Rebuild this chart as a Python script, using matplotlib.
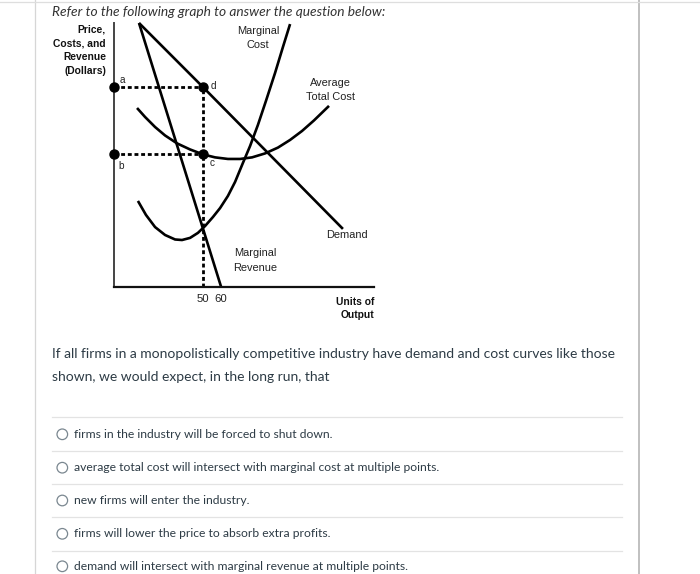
import matplotlib
matplotlib.use("Agg")
import matplotlib.pyplot as plt
from matplotlib.patches import Circle

# ---- curve data (units of output, dollars) ----
demand_q = [14.0, 50.0, 128.2]
demand_p = [100.0, 75.6, 22.0]
mr_q = [14.0, 60.0]
mr_p = [100.0, 0.0]
mc_q = [13.4, 17.9, 23.0, 28.6, 34.2, 38.1, 42.6, 47.0, 51.0, 55.4,
        59.4, 63.8, 67.8, 72.2, 76.2, 80.6, 85.1, 90.2, 94.6, 98.6]
mc_p = [32.6, 27.3, 22.7, 19.7, 18.0, 17.8, 18.6, 20.5, 23.1, 26.5,
        29.9, 34.5, 39.8, 47.0, 53.4, 61.4, 70.5, 81.1, 90.9, 99.6]
atc_q = [12.9, 17.4, 23.0, 28.6, 35.3, 42.6, 50.0, 56.6, 63.8, 70.6,
         77.3, 84.6, 91.8, 98.6, 105.3, 112.0, 120.4]
atc_p = [67.8, 64.4, 60.6, 57.4, 54.4, 52.1, 50.2, 49.1, 48.5, 48.5,
         49.1, 50.6, 52.8, 55.7, 59.1, 63.1, 68.6]
q_star = 50
price_star = 75.6
atc_star = 50.2
tick_q = [50, 60]
tick_labels = ["50", "60"]

title = "Refer to the following graph to answer the question below:"
question = ["If all firms in a monopolistically competitive industry have demand and cost curves like those",
            "shown, we would expect, in the long run, that"]
options = ["firms in the industry will be forced to shut down.",
           "average total cost will intersect with marginal cost at multiple points.",
           "new firms will enter the industry.",
           "firms will lower the price to absorb extra profits.",
           "demand will intersect with marginal revenue at multiple points."]

W, H = 700, 574
TXT = "#2d3b45"
SANS = ["Liberation Sans", "DejaVu Sans"]

fig = plt.figure(figsize=(W / 100, H / 100), dpi=100)
frame = fig.add_axes([0, 0, 1, 1])
frame.set_xlim(0, W)
frame.set_ylim(H, 0)
frame.axis("off")

# page borders
frame.plot([35, 35], [0, H], color="#d6d6d6", lw=0.9)
frame.plot([639, 639], [0, H], color="#b5b5b5", lw=1.2)
frame.plot([0, W], [1.5, 1.5], color="#dedede", lw=0.9)

frame.text(52, 12, title, family=["Lato", "DejaVu Sans"], style="italic",
           fontsize=9.95, color="#333333", va="center")

# ---- diagram ----
ax = fig.add_axes([114 / W, (H - 287) / H, 260 / W, 264 / H])
ax.set_xlim(0, 145.6)
ax.set_ylim(0, 100)
ax.patch.set_alpha(0)
for s in ["top", "right"]:
    ax.spines[s].set_visible(False)
ax.spines["left"].set_color("#444444")
ax.spines["left"].set_linewidth(1.4)
ax.spines["bottom"].set_color("#111111")
ax.spines["bottom"].set_linewidth(1.6)
ax.set_yticks([])
ax.set_xticks(tick_q, tick_labels, family=SANS, fontsize=8.2, color="#222222")
ax.tick_params(axis="x", length=0, pad=5)

kw = dict(color="black", lw=1.9, clip_on=False, solid_capstyle="butt")
ax.plot(demand_q, demand_p, **kw)
ax.plot(mr_q, mr_p, **kw)
ax.plot(mc_q, mc_p, **kw)
ax.plot(atc_q, atc_p, **kw)

dot = dict(color="black", lw=2.0, linestyle=(0, (1.4, 1.0)), clip_on=False)
ax.plot([0, q_star], [price_star, price_star], **dot)
ax.plot([0, q_star], [atc_star, atc_star], **dot)
ax.plot([q_star, q_star], [0, price_star], **dot)
ax.plot([0, q_star, 0, q_star], [price_star, price_star, atc_star, atc_star],
        "o", color="black", markersize=6.5, clip_on=False, zorder=5)

lab = dict(textcoords="offset points", fontsize=7.2, family=SANS,
           ha="center", va="center", color="#222222")
ax.annotate("a", (0, price_star), xytext=(5.8, 5.2), **lab)
ax.annotate("d", (q_star, price_star), xytext=(7.3, 0.8), **lab)
ax.annotate("b", (0, atc_star), xytext=(5.0, -8.3), **lab)
ax.annotate("c", (q_star, atc_star), xytext=(6.1, -6.3), **lab)

# curve names and axis titles (pixel positions)
txt = dict(family=SANS, fontsize=7.9, color="#222222", va="center", ha="center")
frame.text(258, 31.5, "Marginal", **txt)
frame.text(258, 44.5, "Cost", **txt)
frame.text(330, 82.5, "Average", **txt)
frame.text(330, 96.5, "Total Cost", **txt)
frame.text(346.5, 235.5, "Demand", **txt)
frame.text(255, 253.5, "Marginal", **txt)
frame.text(255, 268.3, "Revenue", **txt)

bold = dict(family=SANS, fontsize=7.4, weight="bold", color="#111111",
            va="center", ha="right")
for y, s in zip([29.5, 43.5, 57.5, 71.5], ["Price,", "Costs, and", "Revenue", "(Dollars)"]):
    frame.text(106, y, s, **bold)
frame.text(374.5, 301.7, "Units of", **bold)
frame.text(374.5, 315.5, "Output", **bold)

# ---- question ----
q_font = dict(family=["Lato", "DejaVu Sans"], color=TXT, va="center")
frame.text(52, 354.5, question[0], fontsize=10.0, **q_font)
frame.text(52, 377, question[1], fontsize=10.0, **q_font)

row_y = [434.3, 467.7, 500.5, 533.8, 566.3]
sep_y = [417.3, 450.7, 484.0, 517.3, 550.7]
for y in sep_y:
    frame.plot([52, 622], [y, y], color="#e3e3e3", lw=0.9)
for y, s in zip(row_y, options):
    frame.add_patch(Circle((62.3, y), 5.3, facecolor="white", edgecolor="#7a8790", lw=0.9))
    frame.text(74.5, y, s, fontsize=8.75, **q_font)

fig.savefig("out.png", dpi=100)
